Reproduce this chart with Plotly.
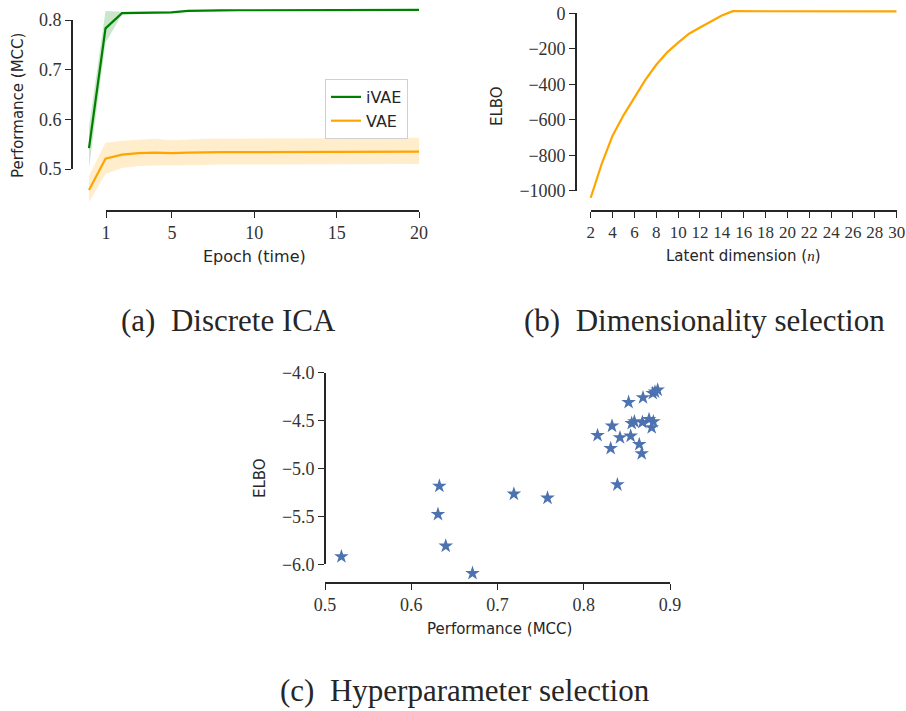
import plotly.graph_objects as go

# ---------------- data ----------------
epochs = list(range(0, 21))
ivae_mean = [0.542, 0.783, 0.8135, 0.8145, 0.8148, 0.815, 0.818, 0.819, 0.8192, 0.8194, 0.8195,
             0.8196, 0.8197, 0.8198, 0.8198, 0.8199, 0.8199, 0.82, 0.82, 0.82, 0.82]
ivae_low = [0.502, 0.754, 0.811, 0.8125, 0.813, 0.8135, 0.817, 0.818, 0.8182, 0.8184, 0.8185,
            0.8186, 0.8187, 0.8188, 0.8188, 0.8189, 0.8189, 0.819, 0.819, 0.819, 0.819]
ivae_high = [0.585, 0.818, 0.8165, 0.8165, 0.8166, 0.8167, 0.819, 0.82, 0.8202, 0.8204, 0.8205,
             0.8206, 0.8207, 0.8208, 0.8208, 0.8209, 0.8209, 0.821, 0.821, 0.821, 0.821]
vae_mean = [0.458, 0.521, 0.529, 0.532, 0.533, 0.532, 0.533, 0.534, 0.534, 0.534, 0.534,
            0.534, 0.534, 0.535, 0.535, 0.535, 0.535, 0.535, 0.535, 0.535, 0.535]
vae_low = [0.434, 0.490, 0.502, 0.506, 0.507, 0.507, 0.508, 0.508, 0.509, 0.509, 0.509,
           0.509, 0.509, 0.510, 0.510, 0.510, 0.510, 0.510, 0.510, 0.510, 0.510]
vae_high = [0.486, 0.553, 0.557, 0.559, 0.561, 0.558, 0.560, 0.561, 0.561, 0.561, 0.562,
            0.562, 0.562, 0.562, 0.562, 0.562, 0.563, 0.563, 0.563, 0.563, 0.563]

latent_dim = list(range(2, 31))
elbo_dim = [-1040, -850, -690, -575, -475, -375, -290, -220, -165, -115, -80, -45, -12, 12,
            12, 12, 12, 12, 11, 11, 12, 12, 12, 12, 13, 13, 12, 12, 11]

mcc = [0.519, 0.6326, 0.631, 0.640, 0.671, 0.719, 0.758, 0.816, 0.8312, 0.8328, 0.839,
       0.842, 0.852, 0.8544, 0.8556, 0.8587, 0.8644, 0.8672, 0.8687, 0.868, 0.8757,
       0.8788, 0.880, 0.8807, 0.8826, 0.8857]
elbo_hp = [-5.92, -5.183, -5.478, -5.809, -6.094, -5.266, -5.308, -4.654, -4.79, -4.556, -5.169,
           -4.678, -4.309, -4.661, -4.528, -4.511, -4.748, -4.845, -4.26, -4.518, -4.487,
           -4.573, -4.215, -4.511, -4.2, -4.18]

a_xticks = [1, 5, 10, 15, 20]
a_yticks = [0.5, 0.6, 0.7, 0.8]
b_xticks = list(range(2, 31, 2))
b_yticks = [0, -200, -400, -600, -800, -1000]
c_xticks = [0.5, 0.6, 0.7, 0.8, 0.9]
c_yticks = [-4.0, -4.5, -5.0, -5.5, -6.0]

# ---------------- layout helpers ----------------
W, H = 906, 711
def fx(p): return p / W
def fy(p): return 1 - p / H

GREEN = "#008000"
ORANGE = "#FFA500"
BLUE = "#4c72b0"
AXC = "#262626"
SERIF = "Liberation Serif, DejaVu Serif, serif"
SANS = "DejaVu Sans, sans-serif"

fig = go.Figure()

# panel a bands + lines
fig.add_trace(go.Scatter(x=epochs, y=ivae_high, mode="lines", line=dict(width=0), showlegend=False,
                         hoverinfo="skip", xaxis="x", yaxis="y"))
fig.add_trace(go.Scatter(x=epochs, y=ivae_low, mode="lines", line=dict(width=0), fill="tonexty",
                         fillcolor="rgba(0,128,0,0.2)", showlegend=False, hoverinfo="skip",
                         xaxis="x", yaxis="y"))
fig.add_trace(go.Scatter(x=epochs, y=vae_high, mode="lines", line=dict(width=0), showlegend=False,
                         hoverinfo="skip", xaxis="x", yaxis="y"))
fig.add_trace(go.Scatter(x=epochs, y=vae_low, mode="lines", line=dict(width=0), fill="tonexty",
                         fillcolor="rgba(255,165,0,0.2)", showlegend=False, hoverinfo="skip",
                         xaxis="x", yaxis="y"))
fig.add_trace(go.Scatter(x=epochs, y=ivae_mean, mode="lines", name="iVAE",
                         line=dict(color=GREEN, width=2.2), xaxis="x", yaxis="y"))
fig.add_trace(go.Scatter(x=epochs, y=vae_mean, mode="lines", name="VAE",
                         line=dict(color=ORANGE, width=2.2), xaxis="x", yaxis="y"))

# panel b
fig.add_trace(go.Scatter(x=latent_dim, y=elbo_dim, mode="lines", showlegend=False,
                         line=dict(color=ORANGE, width=2.2), xaxis="x3", yaxis="y3"))

# panel c
fig.add_trace(go.Scatter(x=mcc, y=elbo_hp, mode="markers", showlegend=False,
                         marker=dict(symbol="star", size=11, color=BLUE, line=dict(width=0)),
                         xaxis="x5", yaxis="y5"))

# empty traces to register spine subplots
for xa, ya in [("x2", "y2"), ("x4", "y4"), ("x6", "y6")]:
    fig.add_trace(go.Scatter(x=[], y=[], mode="markers", showlegend=False, hoverinfo="skip",
                             xaxis=xa, yaxis=ya))

hidden = dict(visible=False, showgrid=False, zeroline=False, fixedrange=True, automargin=False)

def spine(domain, rng, tickvals, position, fmt=None, size=18):
    d = dict(domain=domain, range=rng, tickvals=tickvals, anchor="free", position=position,
             showline=True, linecolor=AXC, linewidth=1.6, ticks="outside", ticklen=6,
             tickwidth=1.4, tickcolor=AXC, showgrid=False, zeroline=False, automargin=False,
             tickangle=0,
             tickfont=dict(family=SERIF, size=size, color="#333333"))
    if fmt:
        d["tickformat"] = fmt
    return d

layout = dict(
    width=W, height=H, margin=dict(l=0, r=0, t=0, b=0, autoexpand=False),
    paper_bgcolor="white", plot_bgcolor="rgba(0,0,0,0)",
    # panel a data axes
    xaxis=dict(domain=[fx(72), fx(419)], range=[-1.03, 20], anchor="y", **hidden),
    yaxis=dict(domain=[fy(211), fy(5)], range=[0.4157, 0.830], anchor="x", **hidden),
    # panel a spines
    xaxis2=spine([fx(106), fx(419)], [1, 20], a_xticks, fy(211)),
    yaxis2=spine([fy(169), fy(20)], [0.5, 0.8], a_yticks, fx(72), ".1f"),
    # panel b data axes
    xaxis3=dict(domain=[fx(576), fx(896.7)], range=[0.655, 30], anchor="y3", **hidden),
    yaxis3=dict(domain=[fy(210.7), fy(5)], range=[-1113, 47], anchor="x3", **hidden),
    # panel b spines
    xaxis4=spine([fx(590.7), fx(896.7)], [2, 30], b_xticks, fy(210.7), size=17),
    yaxis4=spine([fy(190.7), fy(13.3)], [-1000, 0], b_yticks, fx(576)),
    # panel c data axes
    xaxis5=dict(domain=[fx(325), fx(670)], range=[0.5, 0.9], anchor="y5", **hidden),
    yaxis5=dict(domain=[fy(582.7), fy(365)], range=[-6.192, -3.92], anchor="x5", **hidden),
    # panel c spines
    xaxis6=spine([fx(325), fx(670)], [0.5, 0.9], c_xticks, fy(582.7), ".1f"),
    yaxis6=spine([fy(564.3), fy(372.7)], [-6.0, -4.0], c_yticks, fx(325), ".1f"),
    legend=dict(x=fx(325), y=fy(79), xanchor="left", yanchor="top", traceorder="normal",
                bordercolor="#d0d0d0", borderwidth=1, bgcolor="rgba(255,255,255,0.8)",
                font=dict(family=SANS, size=16, color="#262626"), tracegroupgap=0),
    showlegend=True,
)
fig.update_layout(**layout)

def ann(text, x, y, size, family, angle=0):
    fig.add_annotation(text=text, x=fx(x), y=fy(y), xref="paper", yref="paper",
                       showarrow=False, textangle=angle, xanchor="center", yanchor="middle",
                       font=dict(family=family, size=size, color="#262626"))

# axis titles
ann("Performance (MCC)", 18, 106, 15, SANS, -90)
ann("Epoch (time)", 254, 256, 16, SANS)
ann("ELBO", 497, 106, 15, SANS, -90)
ann("Latent dimension (<i><span style='font-family:Liberation Serif'>n</span></i>)", 743, 256, 15, SANS)
ann("ELBO", 260, 478, 15, SANS, -90)
ann("Performance (MCC)", 499, 629, 15, SANS)

# captions
ann("(a)  Discrete ICA", 228, 320, 31, SERIF)
ann("(b)  Dimensionality selection", 704, 320, 31, SERIF)
ann("(c)  Hyperparameter selection", 465, 690, 31, SERIF)

fig.write_html("out.html")
